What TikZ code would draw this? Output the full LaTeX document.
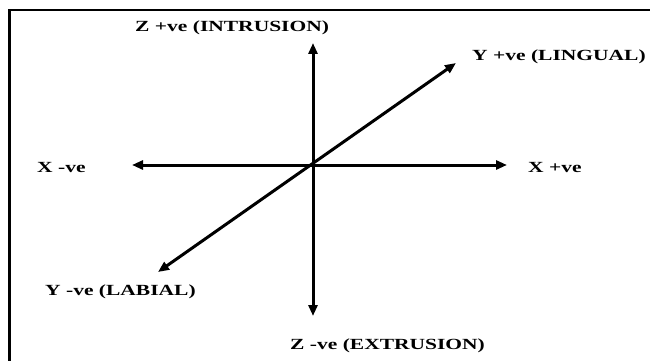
\documentclass[tikz,border=0pt]{standalone}
\usepackage{fontspec}
\setmainfont{Liberation Serif}
\usepackage{graphicx}
\usetikzlibrary{arrows.meta}
\newcommand{\squash}[1]{\scalebox{1}[0.72]{#1}}
\begin{document}
\begin{tikzpicture}[x=1pt,y=-1pt,
  axis/.style={line width=3pt, {Triangle[length=11pt,width=9pt]}-{Triangle[length=11pt,width=9pt]}},
  lbl/.style={anchor=base west, inner sep=0pt, font=\fontsize{21.5}{24}\selectfont\bfseries},
  frame/.style={line width=2.5pt}]
\useasboundingbox (0,0) rectangle (650,361);
% frame (only top and left sides visible)
\coordinate (fbl) at (9.5,362);
\coordinate (ftl) at (9.5,10);
\coordinate (ftr) at (652,10);
\draw[frame] (fbl) -- (ftl) -- (ftr);
% axis tips
\coordinate (O) at (313,165);
\coordinate (zp) at (313,43);
\coordinate (zm) at (313,316);
\coordinate (xm) at (132,165);
\coordinate (xp) at (507,165);
\coordinate (yp) at (456,63);
\coordinate (ym) at (158,272);
\draw[axis] (zm) -- (zp);
\draw[axis] (xm) -- (xp);
\draw[axis] (ym) -- (yp);
% labels
\node[lbl] (lzp) at (135,31.5) {\squash{Z +ve (INTRUSION)}};
\node[lbl] (lyp) at (472,60.5) {\squash{Y +ve (LINGUAL)}};
\node[lbl] (lxm) at (37,172) {\squash{X -ve}};
\node[lbl] (lxp) at (528,172) {\squash{X +ve}};
\node[lbl] (lym) at (45,295) {\squash{Y -ve (LABIAL)}};
\node[lbl] (lzm) at (290,349) {\squash{Z -ve (EXTRUSION)}};
\end{tikzpicture}
\end{document}
